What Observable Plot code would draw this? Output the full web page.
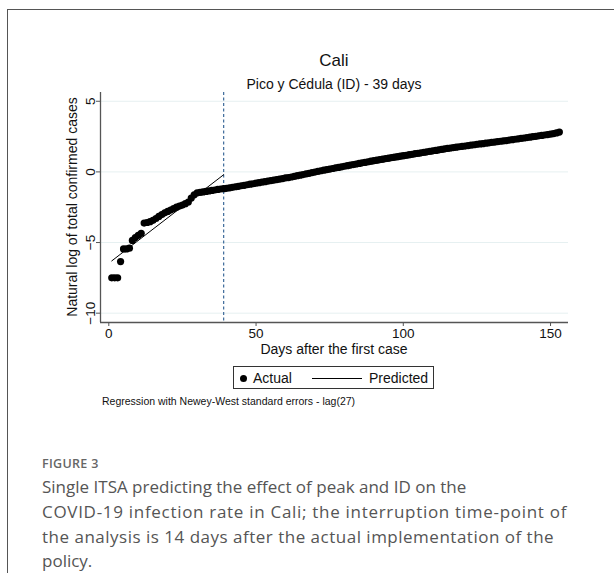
<!DOCTYPE html>
<html>
<head>
<meta charset="utf-8">
<script src="https://cdn.jsdelivr.net/npm/d3@7"></script>
<script src="https://cdn.jsdelivr.net/npm/@observablehq/plot@0.6"></script>
<style>
  html, body { margin: 0; padding: 0; background: #fff; width: 614px; height: 573px; overflow: hidden; }
  #frame { position: absolute; left: 7px; top: 9px; width: 700px; height: 700px; border-left: 1px solid #555; border-top: 1px solid #555; }
  .t { position: absolute; font-family: "Liberation Sans", Arial, sans-serif; color: #111; white-space: nowrap; }
  #chart { position: absolute; left: 0; top: 0; }
  .cap { position: absolute; left: 42px; font-family: "Open Sans", Lato, sans-serif; color: #555; white-space: nowrap; font-size: 17px; line-height: 20px; }
</style>
</head>
<body>
<div id="frame"></div>
<div id="chart"></div>
<div class="t" id="title" style="left:234px; width:200px; text-align:center; top:51px; font-size:17px;">Cali</div>
<div class="t" id="subtitle" style="left:184px; width:300px; text-align:center; top:76px; font-size:14px;">Pico y Cédula (ID) - 39 days</div>
<div class="t" id="ylab" style="left:72px; top:207px; font-size:14px; transform: translate(-50%,-50%) rotate(-90deg);">Natural log of total confirmed cases</div>
<div class="t" id="xlab" style="left:184px; width:300px; text-align:center; top:341px; font-size:14px;">Days after the first case</div>
<div id="legend" style="position:absolute; left:233px; top:366px; width:201px; height:23px; border:1px solid #333; box-sizing:border-box;">
  <span style="position:absolute; left:6px; top:8px; width:7px; height:7px; border-radius:50%; background:#000;"></span>
  <span class="t" style="left:19px; top:3px; font-size:14px;">Actual</span>
  <span style="position:absolute; left:78px; top:11px; width:50px; height:1px; background:#000;"></span>
  <span class="t" style="left:135px; top:3px; font-size:14px;">Predicted</span>
</div>
<div class="t" id="note" style="left:102px; top:395px; font-size:10.5px;">Regression with Newey-West standard errors - lag(27)</div>
<div class="cap" style="top:454px; font-size:12.5px; letter-spacing:0.3px; font-weight:600; color:#666;">FIGURE 3</div>
<div class="cap" style="top:477px;">Single ITSA predicting the effect of peak and ID on the</div>
<div class="cap" style="top:502px; letter-spacing:0.7px;">COVID-19 infection rate in Cali; the interruption time-point of</div>
<div class="cap" style="top:527px; letter-spacing:0.5px;">the analysis is 14 days after the actual implementation of the</div>
<div class="cap" style="top:552px; line-height:18px;">policy.</div>
<script>
// Actual: natural log of total confirmed cases, days 1..153 after the first case
const actualValues = [
  -7.5, -7.5, -7.5, -6.35, -5.45, -5.45, -5.4, -4.85, -4.65, -4.5,
  -4.35, -3.62, -3.58, -3.52, -3.43, -3.3, -3.15, -3.02, -2.9, -2.8,
  -2.7, -2.6, -2.5, -2.42, -2.35, -2.25, -2.13, -1.85, -1.62, -1.48,
  -1.45, -1.42, -1.38, -1.35, -1.31, -1.28, -1.24, -1.21, -1.19, -1.16,
  -1.13, -1.09, -1.05, -1.02, -0.98, -0.95, -0.91, -0.87, -0.84, -0.80,
  -0.76, -0.73, -0.69, -0.65, -0.62, -0.58, -0.54, -0.51, -0.47, -0.43,
  -0.40, -0.36, -0.32, -0.27, -0.23, -0.19, -0.14, -0.10, -0.05, -0.01,
  0.03, 0.08, 0.12, 0.16, 0.20, 0.24, 0.28, 0.32, 0.36, 0.40,
  0.44, 0.48, 0.52, 0.56, 0.60, 0.64, 0.68, 0.72, 0.76, 0.80,
  0.83, 0.87, 0.91, 0.95, 0.98, 1.02, 1.05, 1.08, 1.12, 1.15,
  1.18, 1.22, 1.25, 1.29, 1.32, 1.35, 1.39, 1.42, 1.46, 1.49,
  1.52, 1.56, 1.59, 1.63, 1.66, 1.69, 1.72, 1.75, 1.78, 1.81,
  1.83, 1.86, 1.89, 1.92, 1.95, 1.98, 2.00, 2.03, 2.06, 2.09,
  2.11, 2.14, 2.17, 2.19, 2.22, 2.25, 2.28, 2.31, 2.34, 2.37,
  2.40, 2.43, 2.46, 2.49, 2.52, 2.55, 2.58, 2.61, 2.64, 2.67,
  2.71, 2.76, 2.82
];
// Predicted (ITSA): pre and post segments
const predDays = [1, 39, 39, 153];
const predValues = [-6.3, -0.2, -1.22, 2.8];
const predSegments = ["pre", "pre", "post", "post"];
const interruptionDay = 39;
const xTicks = [0, 50, 100, 150];
const yTicks = [5, 0, -5, -10];

const actual = actualValues.map((v, i) => ({day: i + 1, value: v}));
const predicted = predDays.map((d, i) => ({day: d, value: predValues[i], seg: predSegments[i]}));

const chart = Plot.plot({
  width: 614,
  height: 420,
  marginLeft: 100,
  marginRight: 46,
  marginTop: 92,
  marginBottom: 98,
  style: {fontFamily: "Liberation Sans, Arial, sans-serif", fontSize: "13.5px", color: "#111", background: "transparent"},
  x: {domain: [-2.82, 156.1]},
  y: {domain: [-10.66, 5.62]},
  marks: [
    Plot.gridY(yTicks, {stroke: "#e6f0f1", strokeOpacity: 1, strokeWidth: 1}),
    Plot.ruleX([interruptionDay], {stroke: "#3d6a9a", strokeWidth: 1.2, strokeDasharray: "3,2.5"}),
    Plot.dot(actual, {x: "day", y: "value", r: 3.6, fill: "#000", stroke: "none"}),
    Plot.line(predicted, {x: "day", y: "value", z: "seg", stroke: "#000", strokeWidth: 1}),
    Plot.axisX(xTicks, {tickSize: 4, tickPadding: 2, stroke: "#555", label: null, fontSize: "13.5px"}),
    Plot.axisY(yTicks, {tickSize: 4, tickPadding: 2, tickRotate: -90, stroke: "#555", label: null, fontSize: "13.5px"}),
    Plot.ruleY([-10.66], {stroke: "#555", strokeWidth: 1.3}),
    Plot.ruleX([-2.82], {stroke: "#555", strokeWidth: 1.3})
  ]
});
document.getElementById("chart").appendChild(chart);
</script>
</body>
</html>
